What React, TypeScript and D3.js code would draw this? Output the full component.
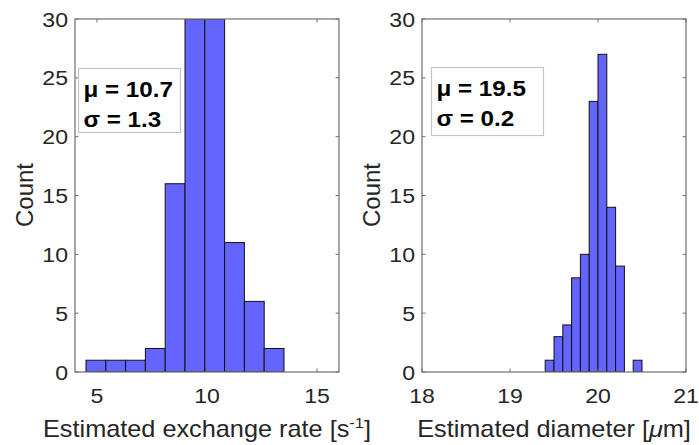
import React from "react";
import * as d3 from "d3";

// Exchange-rate histogram (bin edges and counts)
const rateBinStart = [4.5, 5.4, 6.3, 7.2, 8.1, 9.0, 9.9, 10.8, 11.7, 12.6];
const rateBinEnd = [5.4, 6.3, 7.2, 8.1, 9.0, 9.9, 10.8, 11.7, 12.6, 13.5];
const rateCounts = [1, 1, 1, 2, 16, 30, 30, 11, 6, 2];
const rateTicks = [5, 10, 15];

// Diameter histogram (bin edges and counts)
const diamBinStart = [19.4, 19.5, 19.6, 19.7, 19.8, 19.9, 20.0, 20.1, 20.2, 20.3, 20.4];
const diamBinEnd = [19.5, 19.6, 19.7, 19.8, 19.9, 20.0, 20.1, 20.2, 20.3, 20.4, 20.5];
const diamCounts = [1, 3, 4, 8, 10, 23, 27, 14, 9, 0, 1];
const diamTicks = [18, 19, 20, 21];

const countTicks = [0, 5, 10, 15, 20, 25, 30];

const FONT = "'Liberation Sans', Arial, Helvetica, sans-serif";
const TXT = "#262626";
const AXIS = "#6e6e6e";
const BAR = "#6464ff";
const WIDE = 1.1; // horizontal glyph stretch of the figure text

type TProps = {
  x: number;
  y: number;
  anchor?: "start" | "middle" | "end";
  size: number;
  weight?: string;
  fill?: string;
  sx?: number;
  dy?: string;
  children: React.ReactNode;
};

function SText({ x, y, anchor = "start", size, weight, fill = TXT, sx = WIDE, dy, children }: TProps) {
  return (
    <text
      transform={`translate(${x},${y}) scale(${sx},1)`}
      textAnchor={anchor}
      fontSize={size}
      fontWeight={weight}
      fill={fill}
      fontFamily={FONT}
      dy={dy}
    >
      {children}
    </text>
  );
}

type PanelProps = {
  left: number;
  xDomain: [number, number];
  binStart: number[];
  binEnd: number[];
  counts: number[];
  xTicks: number[];
  stats: [string, string];
  boxX: number;
  boxY: number;
  boxW: number;
  boxH: number;
  title: React.ReactNode;
  id: string;
};

function Panel(p: PanelProps) {
  const width = 264;
  const top = 19;
  const bottom = 372;
  const x = d3.scaleLinear().domain(p.xDomain).range([p.left, p.left + width]);
  const y = d3.scaleLinear().domain([0, 30]).range([bottom, top]);
  const tk = 3.5;
  const right = p.left + width;
  return (
    <g>
      <defs>
        <clipPath id={p.id}>
          <rect x={p.left} y={top} width={width} height={bottom - top} />
        </clipPath>
      </defs>
      <g clipPath={`url(#${p.id})`}>
        {p.counts.map((c, i) =>
          c > 0 ? (
            <rect
              key={i}
              x={x(p.binStart[i])}
              y={y(c)}
              width={x(p.binEnd[i]) - x(p.binStart[i])}
              height={y(0) - y(c)}
              fill={BAR}
              stroke="#111"
              strokeWidth={1}
            />
          ) : null
        )}
      </g>
      {/* axes box */}
      <rect x={p.left} y={top} width={width} height={bottom - top} fill="none" stroke={AXIS} strokeWidth={1.2} />
      {/* y ticks */}
      {countTicks.map((t) => (
        <g key={"y" + t}>
          <line x1={p.left} x2={p.left + tk} y1={y(t)} y2={y(t)} stroke={AXIS} />
          <line x1={right} x2={right - tk} y1={y(t)} y2={y(t)} stroke={AXIS} />
          <SText x={p.left - 7} y={y(t)} dy="0.36em" anchor="end" size={21}>
            {t}
          </SText>
        </g>
      ))}
      {/* x ticks */}
      {p.xTicks.map((t) => (
        <g key={"x" + t}>
          <line x1={x(t)} x2={x(t)} y1={bottom} y2={bottom - tk} stroke={AXIS} />
          <line x1={x(t)} x2={x(t)} y1={top} y2={top + tk} stroke={AXIS} />
          <SText x={x(t)} y={403} anchor="middle" size={21}>
            {t}
          </SText>
        </g>
      ))}
      {/* y label */}
      <text
        transform={`translate(${p.left - 42},${195}) rotate(-90)`}
        textAnchor="middle"
        fontSize={24}
        fill={TXT}
        fontFamily={FONT}
      >
        Count
      </text>
      {/* x label */}
      <SText x={p.left + width / 2} y={437} anchor="middle" size={23}>
        {p.title}
      </SText>
      {/* statistics box */}
      <rect x={p.boxX} y={p.boxY} width={p.boxW} height={p.boxH} fill="#fff" stroke="#c4c4c4" strokeWidth={1.2} />
      <SText x={p.boxX + 5} y={p.boxY + 28.5} size={22} weight="bold" fill="#000">
        {p.stats[0]}
      </SText>
      <SText x={p.boxX + 5} y={p.boxY + 58.5} size={22} weight="bold" fill="#000">
        {p.stats[1]}
      </SText>
    </g>
  );
}

export default function App() {
  return (
    <svg width={699} height={445} style={{ position: "absolute", left: 0, top: 0, background: "#fff" }}>
      <rect width={699} height={445} fill="#fff" />
      <Panel
        id="clipA"
        left={75}
        xDomain={[4, 16]}
        binStart={rateBinStart}
        binEnd={rateBinEnd}
        counts={rateCounts}
        xTicks={rateTicks}
        stats={["μ = 10.7", "σ = 1.3"]}
        boxX={78.5}
        boxY={68.5}
        boxW={102}
        boxH={64}
        title={
          <>
            Estimated exchange rate [s
            <tspan dy={-9} fontSize={15}>
              -1
            </tspan>
            <tspan dy={9}>]</tspan>
          </>
        }
      />
      <Panel
        id="clipB"
        left={422}
        xDomain={[18, 21]}
        binStart={diamBinStart}
        binEnd={diamBinEnd}
        counts={diamCounts}
        xTicks={diamTicks}
        stats={["μ = 19.5", "σ = 0.2"]}
        boxX={431.5}
        boxY={67.5}
        boxW={112}
        boxH={68}
        title={
          <>
            Estimated diameter [<tspan fontStyle="italic">μ</tspan>m]
          </>
        }
      />
    </svg>
  );
}
